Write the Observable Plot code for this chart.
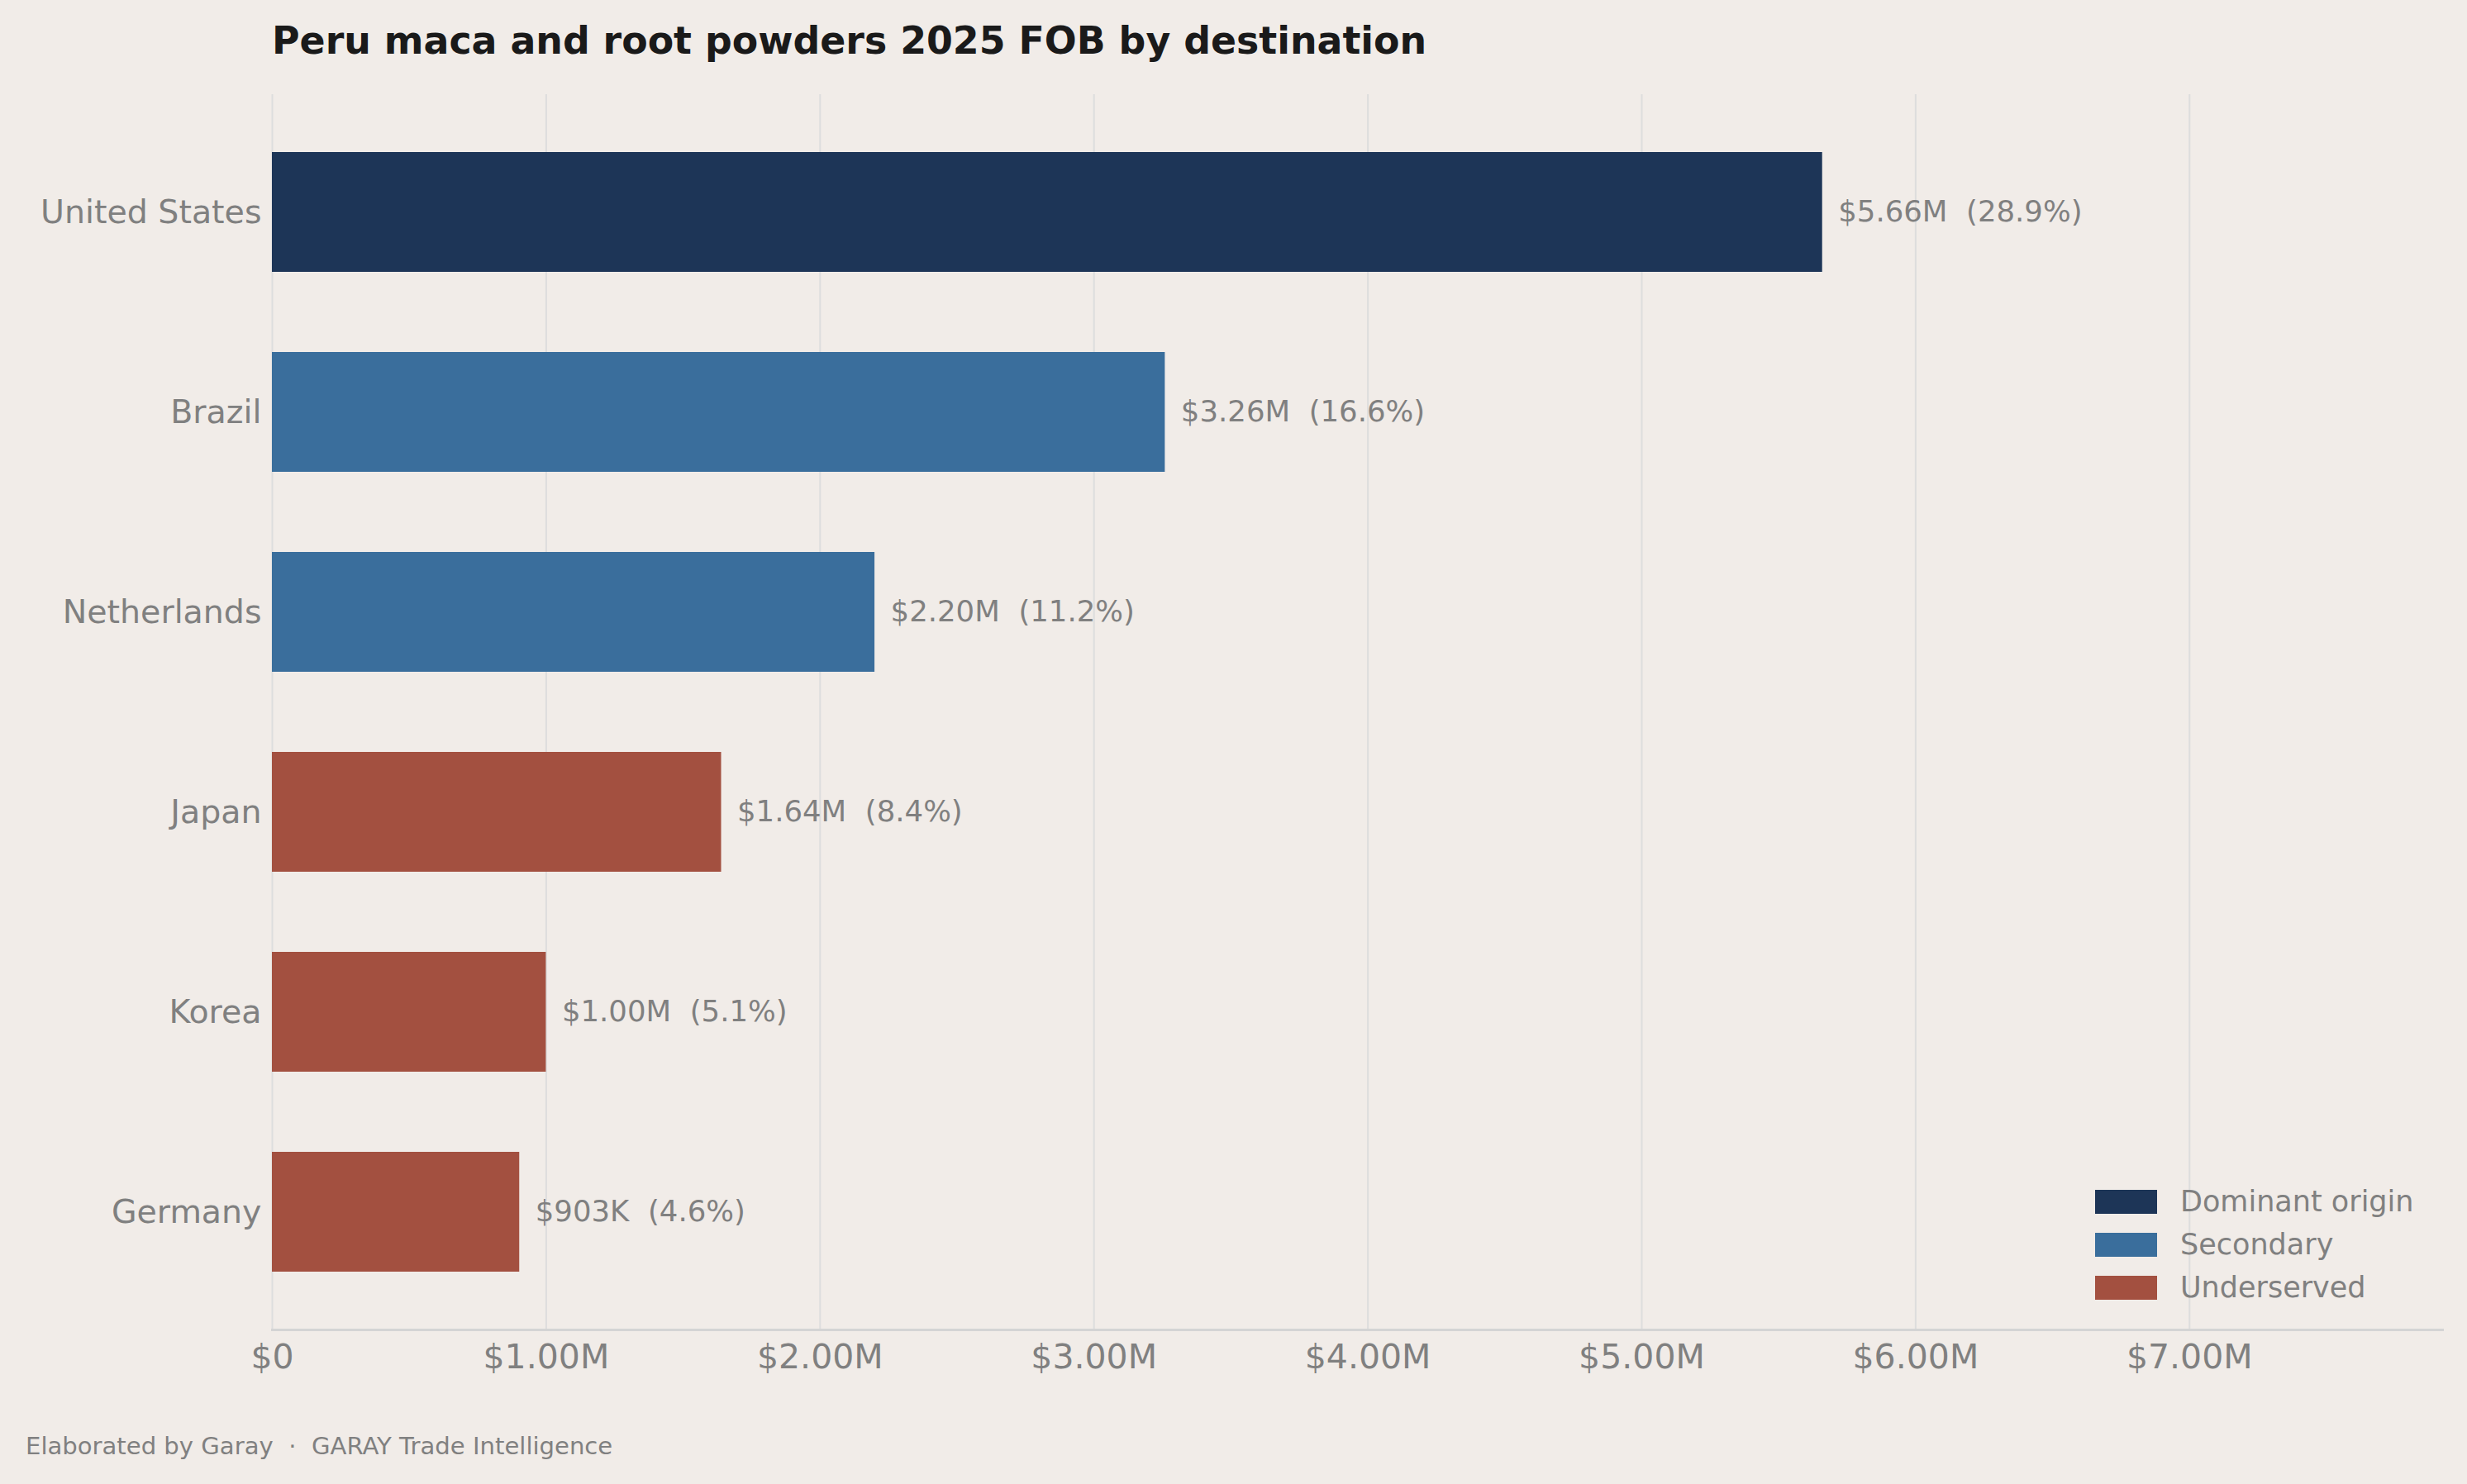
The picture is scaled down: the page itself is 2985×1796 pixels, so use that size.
<!DOCTYPE html>
<html>
<head>
<meta charset="utf-8">
<script src="https://cdn.jsdelivr.net/npm/d3@7"></script>
<script src="https://cdn.jsdelivr.net/npm/@observablehq/plot@0.6"></script>
<style>
  html, body { margin: 0; padding: 0; background: #f1ece8; }
  #wrap { position: relative; width: 2985px; height: 1796px; background: #f1ece8; font-family: "DejaVu Sans", sans-serif; overflow: hidden; }
  #title { position: absolute; left: 329px; top: 26px; font-size: 45.8px; line-height: 46px; font-weight: bold; color: #1a1a1a; white-space: nowrap; }
  #chart { position: absolute; left: 0; top: 100px; }
  #footer { position: absolute; left: 31px; top: 1736px; font-size: 29.1px; line-height: 29px; color: #808080; white-space: pre; }
  .lg-row { position: absolute; left: 2535px; height: 52px; display: flex; align-items: center; font-size: 35px; color: #808080; white-space: nowrap; }
  .lg-sw { width: 75px; height: 29px; margin-right: 28px; }
</style>
</head>
<body>
<div id="wrap">
  <div id="title"></div>
  <div id="chart"></div>
  <div id="legend"></div>
  <div id="footer"></div>
</div>
<script>
const titleText = "Peru maca and root powders 2025 FOB by destination";
const footerText = "Elaborated by Garay  \u00b7  GARAY Trade Intelligence";

const countries = ["United States", "Brazil", "Netherlands", "Japan", "Korea", "Germany"];
const fobValues = [5.66e6, 3.26e6, 2.20e6, 1.64e6, 1.00e6, 903e3];
const shares = [28.9, 16.6, 11.2, 8.4, 5.1, 4.6];
const tiers = ["Dominant origin", "Secondary", "Secondary", "Underserved", "Underserved", "Underserved"];

const tierNames = ["Dominant origin", "Secondary", "Underserved"];
const tierColors = ["#1d3557", "#3a6e9c", "#a35040"];

const xTicks = [0, 1e6, 2e6, 3e6, 4e6, 5e6, 6e6, 7e6];
const xMax = 5.66e6 * 1.4;

const fmtAxis = v => v === 0 ? "$0" : "$" + (v / 1e6).toFixed(2) + "M";
const fmtVal = v => v >= 1e6 ? "$" + (v / 1e6).toFixed(2) + "M" : "$" + Math.round(v / 1e3) + "K";

const data = countries.map((c, i) => ({
  country: c, value: fobValues[i], share: shares[i], tier: tiers[i],
  label: fmtVal(fobValues[i]) + "\u00a0 (" + shares[i].toFixed(1) + "%)"
}));

document.getElementById("title").textContent = titleText;
document.getElementById("footer").textContent = footerText;

const gray = "#808080";

const chart = Plot.plot({
  width: 2985,
  height: 1600,
  marginLeft: 329,
  marginRight: 30,
  marginTop: 14,
  marginBottom: 91,
  style: { background: "transparent", fontFamily: "DejaVu Sans, sans-serif", overflow: "visible" },
  x: { domain: [0, xMax], label: null },
  y: { domain: countries, paddingInner: 0.4, paddingOuter: 0.28, align: 0.5, label: null },
  color: { domain: tierNames, range: tierColors },
  marks: [
    Plot.ruleX(xTicks, { stroke: "#dddddd", strokeWidth: 2 }),
    Plot.frame({ anchor: "bottom", stroke: "#d4d4d4", strokeWidth: 3, strokeOpacity: 1 }),
    Plot.barX(data, { x: "value", y: "country", fill: "tier" }),
    Plot.text(data, { x: "value", y: "country", text: "label", dx: 19, textAnchor: "start", fontSize: 35.5, fill: gray }),
    Plot.axisX({ ticks: xTicks, tickFormat: fmtAxis, tickSize: 0, tickPadding: 17, fontSize: 41, fill: gray, label: null }),
    Plot.axisY({ tickSize: 0, tickPadding: 13, fontSize: 39.5, fill: gray, label: null })
  ]
});
document.getElementById("chart").appendChild(chart);

const legend = document.getElementById("legend");
const rowCenters = [1454, 1506, 1558];
tierNames.forEach((t, i) => {
  const row = document.createElement("div");
  row.className = "lg-row";
  row.style.top = (rowCenters[i] - 26) + "px";
  const sw = document.createElement("div");
  sw.className = "lg-sw";
  sw.style.background = tierColors[i];
  const tx = document.createElement("span");
  tx.textContent = t;
  row.appendChild(sw);
  row.appendChild(tx);
  legend.appendChild(row);
});
</script>
</body>
</html>
